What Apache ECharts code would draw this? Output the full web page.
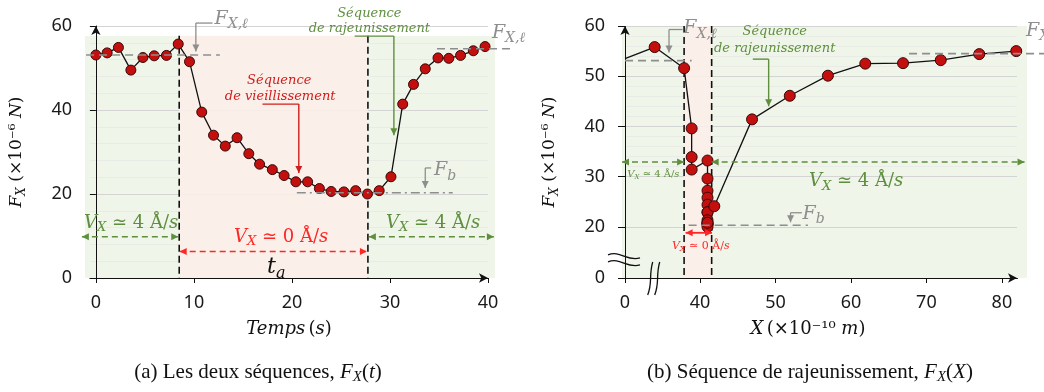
<!DOCTYPE html>
<html><head><meta charset="utf-8">
<script src="https://cdn.jsdelivr.net/npm/echarts@6/dist/echarts.min.js"></script>
<style>html,body{margin:0;padding:0;background:#fff}#c{width:1044px;height:392px}</style>
</head><body><div id="c"></div>
<script>
// ---------- data ----------
const timeS = [0, 1.15, 2.3, 3.57, 4.8, 5.95, 7.2, 8.4, 9.55, 10.8, 12.0, 13.2, 14.4, 15.6, 16.7, 18.0, 19.2, 20.4, 21.6, 22.8, 24.0, 25.3, 26.5, 27.7, 28.9, 30.1, 31.3, 32.4, 33.6, 34.9, 36.0, 37.2, 38.5, 39.7];
const forceT = [53.1, 53.6, 54.9, 49.5, 52.5, 52.9, 53.0, 55.7, 51.5, 39.5, 34.0, 31.4, 33.4, 29.6, 27.1, 25.8, 24.4, 22.9, 22.9, 21.3, 20.6, 20.5, 20.8, 20.0, 20.8, 24.1, 41.4, 46.1, 49.8, 52.4, 52.3, 53.0, 54.1, 55.1];
const posX = [0, 34.0, 37.9, 38.9, 38.9, 38.9, 41.0, 41.0, 41.0, 41.0, 41.0, 41.0, 41.0, 41.0, 41.0, 41.0, 41.0, 41.0, 41.0, 41.9, 46.9, 51.9, 56.95, 61.9, 66.9, 71.9, 77.0, 81.9];
const forceX = [53.5, 55.8, 51.6, 39.6, 33.9, 31.4, 33.2, 29.6, 27.2, 25.8, 24.4, 22.9, 22.9, 21.3, 20.6, 20.5, 20.8, 20.0, 20.8, 24.1, 41.4, 46.1, 50.1, 52.5, 52.6, 53.2, 54.4, 55.0];
const ticksT = [0, 10, 20, 30, 40];
const ticksX = [0, 40, 50, 60, 70, 80];
const ticksFB = [0, 20, 30, 40, 50, 60];
const agingT = [8.5, 27.75];
const agingX = [37.9, 41.55];
const FXlA = 53.1, FXlA2 = 54.6, FbA = 20.3;
const FXlB = 53.1, FXlB2 = 54.5, FbB = 20.3;
const breakX = [3.8, 33.87];
const breakY = [3.6, 13.4];

// ---------- styles ----------
const SANS = "'Noto Sans', 'DejaVu Sans', sans-serif";
const MATH = "'DejaVu Serif', serif";
const CAP = "'Liberation Serif', 'DejaVu Serif', serif";
const GREEN_BG = '#eff5e9', PINK = 'rgba(253,238,233,0.85)';
const GREEN = '#5f8f3e', RED = '#d01c1c', RED2 = '#ff2626', GRAY = '#8e8e8e';

const chart = echarts.init(document.getElementById('c'), null, {renderer: 'canvas'});

function hiddenAxes(g) {
  return {
    x: {type: 'value', gridIndex: g, show: false, min: 0, max: 1},
    y: {type: 'value', gridIndex: g, show: false, min: 0, max: 1}
  };
}
const hA = hiddenAxes(0), hB = hiddenAxes(2);
const axisLbl = {fontFamily: SANS, fontSize: 18, color: '#1a1a1a'};
const nameRichY = {
  i: {fontFamily: MATH, fontStyle: 'italic', fontSize: 17, color: '#111', lineHeight: 22},
  s: {fontFamily: MATH, fontStyle: 'italic', fontSize: 12, color: '#111', lineHeight: 14, verticalAlign: 'bottom'},
  n: {fontFamily: MATH, fontSize: 17, color: '#111', lineHeight: 22}};
const nameRichX = {
  i: {fontFamily: MATH, fontStyle: 'italic', fontSize: 18, color: '#111'},
  n: {fontFamily: MATH, fontSize: 18, color: '#111'}};

const option = {
  animation: false,
  grid: [
    {left: 85, right: 549, top: 36, bottom: 114, show: true, backgroundColor: GREEN_BG, borderWidth: 0},
    {left: 90, right: 556, top: 26, bottom: 114},
    {left: 622, right: 17, top: 26, bottom: 114, show: true, backgroundColor: GREEN_BG, borderWidth: 0},
    {left: 625, right: 27, top: 26, bottom: 114}
  ],
  xAxis: [
    hA.x,
    {type: 'value', gridIndex: 1, min: -0.6, max: 40,
     axisLine: {onZero: true, lineStyle: {color: '#111', width: 1}, symbol: ['none', 'arrow'], symbolSize: [7, 9]},
     axisTick: {show: true, customValues: ticksT, length: 5, lineStyle: {color: '#111'}},
     axisLabel: Object.assign({customValues: ticksT, margin: 16}, axisLbl),
     splitLine: {show: false},
     name: '{i|Temps} {n|(}{i|s}{n|)}', nameLocation: 'middle', nameGap: 42,
     nameTextStyle: {rich: nameRichX}},
    hB.x,
    {type: 'value', gridIndex: 3, min: 0, max: 82, interval: 10,
     breaks: [{start: breakX[0], end: breakX[1], gap: 0}],
     breakArea: {show: false},
     axisLine: {onZero: true, lineStyle: {color: '#111', width: 1}, symbol: ['none', 'arrow'], symbolSize: [7, 9]},
     axisTick: {show: true, customValues: ticksX, length: 5, lineStyle: {color: '#111'}},
     axisLabel: Object.assign({customValues: ticksX, margin: 16}, axisLbl),
     splitLine: {show: false},
     name: '{i|X} {n|(×10⁻¹⁰ }{i|m}{n|)}', nameLocation: 'middle', nameGap: 42,
     nameTextStyle: {padding: [0, 26, 0, 0], rich: nameRichX}}
  ],
  yAxis: [
    hA.y,
    {type: 'value', gridIndex: 1, min: 0, max: 60, interval: 20,
     axisLine: {show: true, onZero: true, lineStyle: {color: '#111', width: 1}, symbol: ['none', 'arrow'], symbolSize: [7, 9]},
     axisTick: {show: true, length: 6, lineStyle: {color: '#111'}},
     axisLabel: Object.assign({margin: 18}, axisLbl),
     splitLine: {show: true, lineStyle: {color: '#d4d4d4', width: 1}},
     minorTick: {show: false, splitNumber: 5},
     minorSplitLine: {show: true, lineStyle: {color: '#e9ece6', width: 1}},
     name: '{i|F}{s|X}{n| (×10⁻⁶ }{i|N}{n|)}', nameLocation: 'middle', nameGap: 62, nameRotate: 90,
     nameTextStyle: {rich: nameRichY}},
    hB.y,
    {type: 'value', gridIndex: 3, min: 0, max: 60, interval: 10,
     breaks: [{start: breakY[0], end: breakY[1], gap: 0}],
     breakArea: {show: false},
     axisLine: {show: true, onZero: true, lineStyle: {color: '#111', width: 1}, symbol: ['none', 'arrow'], symbolSize: [7, 9]},
     axisTick: {show: true, customValues: ticksFB, length: 7, lineStyle: {color: '#111'}},
     axisLabel: Object.assign({customValues: ticksFB, margin: 20}, axisLbl),
     splitLine: {show: true, lineStyle: {color: '#d4d4d4', width: 1}},
     minorTick: {show: false, splitNumber: 5},
     minorSplitLine: {show: true, lineStyle: {color: '#e9ece6', width: 1}},
     name: '{i|F}{s|X}{n| (×10⁻⁶ }{i|N}{n|)}', nameLocation: 'middle', nameGap: 64, nameRotate: 90,
     nameTextStyle: {rich: nameRichY}}
  ],
  series: [
    {type: 'line', xAxisIndex: 1, yAxisIndex: 1,
     data: timeS.map((t, i) => [t, forceT[i]]),
     symbol: 'circle', symbolSize: 10,
     itemStyle: {color: '#c40f0f', borderColor: '#3a0808', borderWidth: 1},
     lineStyle: {color: '#111', width: 1.3},
     markArea: {silent: true, itemStyle: {color: PINK},
       data: [[{coord: [agingT[0], 0]}, {coord: [agingT[1], 57.7]}]]}},
    {type: 'line', xAxisIndex: 3, yAxisIndex: 3,
     data: posX.map((x, i) => ({value: [x, forceX[i]], symbol: i === 0 ? 'none' : 'circle'})),
     symbol: 'circle', symbolSize: 11,
     itemStyle: {color: '#c40f0f', borderColor: '#3a0808', borderWidth: 1},
     lineStyle: {color: '#111', width: 1.3},
     markArea: {silent: true, itemStyle: {color: PINK},
       data: [[{coord: [agingX[0], 0]}, {coord: [agingX[1], 60]}]]}}
  ]
};
chart.setOption(option);

// ---------- annotations anchored on data coordinates ----------
function P(g, x, y) { return chart.convertToPixel({gridIndex: g}, [x, y]); }
const G = [];
function line(a, b, color, w, dash, z) {
  G.push({type: 'line', z: z || 5, silent: true,
    shape: {x1: a[0], y1: a[1], x2: b[0], y2: b[1]},
    style: {stroke: color, lineWidth: w, lineDash: dash || null}});
}
function head(a, b, color, L, W) {
  L = L || 7; W = W || 3.5;
  const dx = b[0] - a[0], dy = b[1] - a[1], n = Math.hypot(dx, dy) || 1;
  const ux = dx / n, uy = dy / n;
  const bx = b[0] - ux * L, by = b[1] - uy * L;
  G.push({type: 'polygon', z: 6, silent: true,
    shape: {points: [[b[0], b[1]], [bx - uy * W, by + ux * W], [bx + uy * W, by - ux * W]]},
    style: {fill: color}});
}
function arrow(a, b, color, w, dash, both) {
  line(a, b, color, w, dash);
  head(a, b, color);
  if (both) head(b, a, color);
}
function rich(fs, color) {
  return {
    i: {fontFamily: MATH, fontStyle: 'italic', fontSize: fs, fill: color, lineHeight: Math.round(fs * 1.3)},
    s: {fontFamily: MATH, fontStyle: 'italic', fontSize: Math.round(fs * 0.72), fill: color, lineHeight: Math.round(fs * 0.8), verticalAlign: 'bottom'},
    n: {fontFamily: MATH, fontSize: fs, fill: color, lineHeight: Math.round(fs * 1.3)}
  };
}
function text(p, str, fs, color, align, extra) {
  G.push({type: 'text', z: 7, silent: true, x: p[0], y: p[1],
    style: Object.assign({text: str, rich: rich(fs, color), align: align || 'center', verticalAlign: 'middle'}, extra || {})});
}
function brack(g, h0, h1, v1, color) {
  const a = P(g, h0[0], h0[1]), b = P(g, h1[0], h0[1]), c = P(g, h0[0], v1);
  line(a, b, color, 1.3);
  arrow(a, c, color, 1.3);
}

// ---- panel (a) ----
const A = 1;
agingT.forEach(t => line(P(A, t, 57.7), P(A, t, 0), '#111', 1.6, [7, 4], 1.5));
line(P(A, -1.0, FXlA), P(A, 12.65, FXlA), GRAY, 1.6, [8, 5]);
line(P(A, 34.8, FXlA2), P(A, 42.5, FXlA2), GRAY, 1.6, [8, 5]);
line(P(A, 20.5, FbA), P(A, 36.4, FbA), GRAY, 1.4, [9, 4, 2, 4]);
brack(A, [10.2, 60.7], [11.9], 53.9, GRAY);
text(P(A, 12.1, 61.6), '{i|F}{s|X,ℓ}', 19, GRAY, 'left');
text(P(A, 40.4, 58.3), '{i|F}{s|X,ℓ}', 19, GRAY, 'left');
brack(A, [33.6, 26.2], [34.2], 21.4, GRAY);
text(P(A, 34.5, 25.6), '{i|F}{s|b}', 19, GRAY, 'left');
text(P(A, 18.7, 47.1), '{i|Séquence}', 13, RED);
text(P(A, 18.8, 43.3), '{i|de vieillissement}', 13, RED);
line(P(A, 17.0, 41.4), P(A, 20.7, 41.4), RED, 1.4);
arrow(P(A, 20.7, 41.4), P(A, 20.7, 25.0), RED, 1.4);
text(P(A, 27.9, 62.9), '{i|Séquence}', 13, GREEN);
text(P(A, 27.9, 59.3), '{i|de rajeunissement}', 13, GREEN);
line(P(A, 26.4, 57.6), P(A, 30.4, 57.6), GREEN, 1.4);
arrow(P(A, 30.4, 57.6), P(A, 30.4, 34.0), GREEN, 1.4);
text(P(A, 3.6, 13.1), '{i|V}{s|X}{n| ≃ 4 Å/}{i|s}', 18, GREEN);
arrow(P(A, -1.43, 9.8), P(A, 8.4, 9.8), GREEN, 1.5, [6, 4], true);
text(P(A, 34.4, 13.1), '{i|V}{s|X}{n| ≃ 4 Å/}{i|s}', 18, GREEN);
arrow(P(A, 27.85, 9.8), P(A, 40.6, 9.8), GREEN, 1.5, [6, 4], true);
text(P(A, 18.9, 9.8), '{i|V}{s|X}{n| ≃ 0 Å/}{i|s}', 18, RED2);
arrow(P(A, 8.55, 6.3), P(A, 27.65, 6.3), RED2, 1.5, [6, 4], true);
text(P(A, 18.4, 2.6), '{i|t}{s|a}', 22, '#111');

// ---- panel (b) ----
const B = 3;
agingX.forEach(x => line(P(B, x, 60), P(B, x, 0), '#111', 1.6, [7, 4], 1.5));
line(P(B, 0, FXlB), P(B, 38.9, FXlB), GRAY, 1.6, [8, 5]);
line(P(B, 67.7, FXlB2), P(B, 85.6, FXlB2), GRAY, 1.6, [8, 5]);
line(P(B, 38.5, FbB), P(B, 54.3, FbB), GRAY, 1.4, [8, 5]);
brack(B, [35.9, 59.3], [37.7], 54.7, GRAY);
text(P(B, 37.8, 59.5), '{i|F}{s|X,ℓ}', 19, GRAY, 'left');
text(P(B, 83.2, 59.0), '{i|F}{s|X,ℓ}', 19, GRAY, 'left');
brack(B, [52.0, 22.8], [53.5], 20.9, GRAY);
text(P(B, 53.6, 22.6), '{i|F}{s|b}', 19, GRAY, 'left');
text(P(B, 49.9, 58.8), '{i|Séquence}', 13, GREEN);
text(P(B, 49.9, 55.4), '{i|de rajeunissement}', 13, GREEN);
line(P(B, 47.0, 53.4), P(B, 49.1, 53.4), GREEN, 1.4);
arrow(P(B, 49.1, 53.4), P(B, 49.1, 44.0), GREEN, 1.4);
arrow(P(B, -0.4, 32.9), P(B, agingX[0], 32.9), GREEN, 1.5, [6, 4], true);
arrow(P(B, agingX[1], 32.9), P(B, 83.0, 32.9), GREEN, 1.5, [6, 4], true);
text(P(B, 0.3, 30.4), '{i|V}{s|X}{n| ≃ 4 Å/}{i|s}', 10, GREEN, 'left');
text(P(B, 60.7, 29.0), '{i|V}{s|X}{n| ≃ 4 Å/}{i|s}', 18, GREEN);
arrow(P(B, 38.1, 18.8), P(B, 41.6, 18.8), RED2, 1.8, null, true);
text(P(B, 40.1, 16.2), '{i|V}{s|X}{n| ≃ 0 Å/}{i|s}', 11, RED2);
// axis break marks
const yb = P(B, 0, breakY[0]);
[0, 7].forEach(o => G.push({type: 'bezierCurve', z: 8, silent: true,
  shape: {x1: yb[0] - 17, y1: yb[1] - 5 + o, cpx1: yb[0] - 5, cpy1: yb[1] - 10 + o, cpx2: yb[0] + 2, cpy2: yb[1] + 2 + o, x2: yb[0] + 15, y2: yb[1] - 2 + o},
  style: {stroke: '#111', lineWidth: 1.3, fill: null}}));
const xb = P(B, breakX[0], 0);
[0, 7].forEach(o => G.push({type: 'bezierCurve', z: 8, silent: true,
  shape: {x1: xb[0] - 6 + o, y1: xb[1] + 17, cpx1: xb[0] - 1 + o, cpy1: xb[1] + 5, cpx2: xb[0] - 5 + o, cpy2: xb[1] - 2, x2: xb[0] - 1 + o, y2: xb[1] - 16},
  style: {stroke: '#111', lineWidth: 1.3, fill: null}}));

// captions
const capRich = {n: {fontFamily: CAP, fontSize: 21, fill: '#111', lineHeight: 26},
  i: {fontFamily: CAP, fontStyle: 'italic', fontSize: 21, fill: '#111', lineHeight: 26},
  s: {fontFamily: CAP, fontStyle: 'italic', fontSize: 15, fill: '#111', lineHeight: 18, verticalAlign: 'bottom'}};
G.push({type: 'text', z: 7, silent: true, x: 258, y: 372, style: {
  text: '{n|(a) Les deux séquences, }{i|F}{s|X}{n|(}{i|t}{n|)}', align: 'center', verticalAlign: 'middle', rich: capRich}});
G.push({type: 'text', z: 7, silent: true, x: 810, y: 372, style: {
  text: '{n|(b) Séquence de rajeunissement, }{i|F}{s|X}{n|(}{i|X}{n|)}', align: 'center', verticalAlign: 'middle', rich: capRich}});

chart.setOption({graphic: {elements: G}});
</script></body></html>
